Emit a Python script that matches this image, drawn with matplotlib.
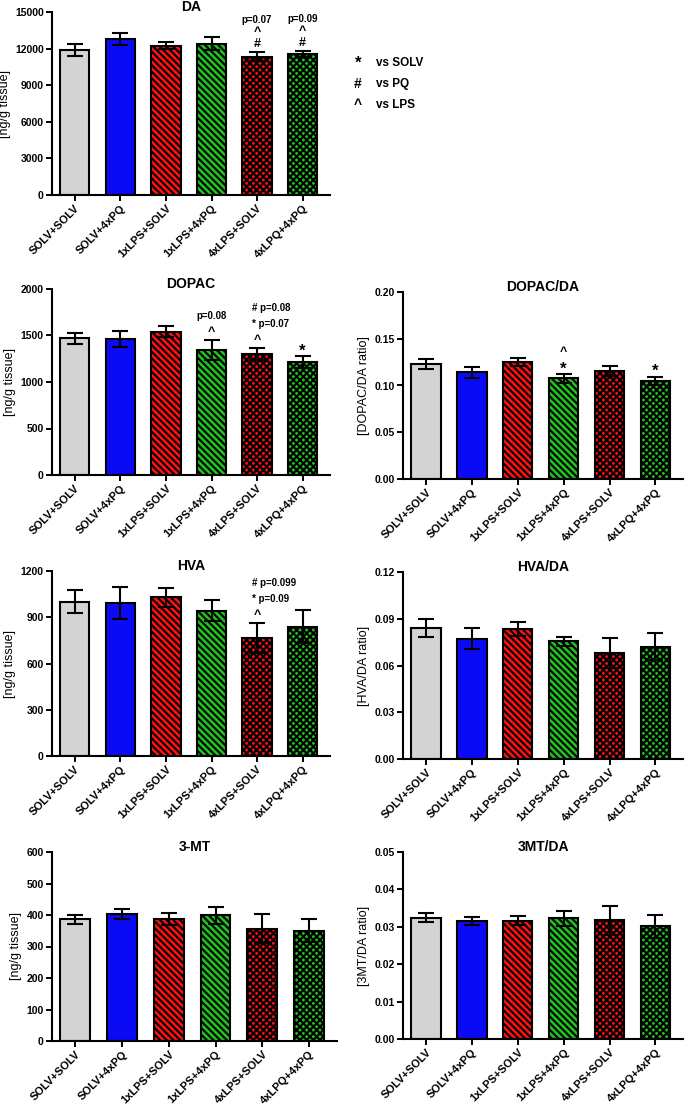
import matplotlib.pyplot as plt
from matplotlib.ticker import FormatStrFormatter

plt.rcParams['font.family'] = ['Liberation Sans', 'DejaVu Sans']
plt.rcParams['hatch.linewidth'] = 1.5

# groups and bar styling
groups = ['SOLV+SOLV', 'SOLV+4xPQ', '1xLPS+SOLV', '1xLPS+4xPQ', '4xLPS+SOLV', '4xLPQ+4xPQ']
colors = ['#d3d3d3', '#0a0af5', '#ff1010', '#1ec21e', '#ff1010', '#1ec21e']
hatches = ['', '', '\\\\\\\\\\', '\\\\\\\\\\', 'xxxxx', 'xxxxx']

# values (mean, sem)
da_mean = [11890, 12790, 12240, 12400, 11340, 11560]
da_err = [460, 490, 270, 550, 355, 220]
dopac_mean = [1470, 1463, 1539, 1341, 1301, 1214]
dopac_err = [62, 85, 58, 108, 61, 65]
dopac_da_mean = [0.1231, 0.1142, 0.1253, 0.1075, 0.1157, 0.1050]
dopac_da_err = [0.0053, 0.0057, 0.0046, 0.0046, 0.0053, 0.0046]
hva_mean = [1001, 995, 1029, 943, 765, 839]
hva_err = [76, 104, 63, 67, 98, 108]
hva_da_mean = [0.0841, 0.0773, 0.0833, 0.0756, 0.0681, 0.0720]
hva_da_err = [0.0060, 0.0068, 0.0045, 0.0030, 0.0094, 0.0087]
mt_mean = [386, 404, 387, 399, 357, 350]
mt_err = [13, 16, 19, 27, 45, 36]
mt_da_mean = [0.0324, 0.0316, 0.0316, 0.0323, 0.0317, 0.0301]
mt_da_err = [0.0012, 0.0010, 0.0012, 0.0020, 0.0039, 0.0031]

# significance marks per bar, listed from bottom to top
da_marks = {4: ['#', '^', 'p=0.07'], 5: ['#', '^', 'p=0.09']}
dopac_marks = {3: ['^', 'p=0.08'], 4: ['^', '* p=0.07', '# p=0.08'], 5: ['*']}
dopac_da_marks = {3: ['*', '^'], 5: ['*']}
hva_marks = {4: ['^', '* p=0.09', '# p=0.099']}

W, H = 685, 1108
fig = plt.figure(figsize=(W / 100, H / 100), dpi=100)


def panel(box, title, mean, err, ymax, ystep, ylabel, fmt, marks=None, step=15):
    left, top, right, bottom = box
    ax = fig.add_axes([left / W, 1 - bottom / H, (right - left) / W, (bottom - top) / H])
    x = range(len(groups))
    ax.bar(x, mean, 0.64, color=colors, hatch=hatches, edgecolor='black',
           linewidth=1.5, zorder=2)
    ax.errorbar(x, mean, yerr=err, fmt='none', ecolor='black', elinewidth=1.5,
                capsize=6, capthick=1.5, zorder=3)
    ax.set_xlim(-0.5, 5.6)
    ax.set_ylim(0, ymax)
    ax.set_yticks([i * ystep for i in range(int(round(ymax / ystep)) + 1)])
    ax.yaxis.set_major_formatter(FormatStrFormatter(fmt))
    ax.set_xticks(list(x))
    ax.set_xticklabels(groups, rotation=45, ha='right', rotation_mode='anchor',
                       fontsize=8, fontweight='bold')
    for lab in ax.get_yticklabels():
        lab.set_fontweight('bold')
        lab.set_fontsize(7.5)
    ax.tick_params(axis='both', length=4, width=1.4, pad=2)
    for s in ['top', 'right']:
        ax.spines[s].set_visible(False)
    for s in ['left', 'bottom']:
        ax.spines[s].set_linewidth(1.5)
    ax.set_ylabel(ylabel, fontsize=9, labelpad=3)
    # title sits right on the top of the axes
    ax.annotate(title, (0.5, 1.0), xycoords='axes fraction', xytext=(0, 0.5),
                textcoords='offset points', ha='center', va='baseline',
                fontsize=10, fontweight='bold', annotation_clip=False)
    if marks:
        for i, texts in marks.items():
            ytop = mean[i] + err[i]
            for k, t in enumerate(texts):
                off = (8 + k * step) * 0.72
                if t.startswith(('* ', '# ')):
                    ax.annotate(t, (i, ytop), xytext=(-4, off), textcoords='offset points',
                                ha='left', va='center', fontsize=7, fontweight='bold')
                elif t.startswith('p='):
                    ax.annotate(t, (i, ytop), xytext=(0, off), textcoords='offset points',
                                ha='center', va='center', fontsize=7, fontweight='bold')
                elif t == '*':
                    ax.annotate(t, (i, ytop), xytext=(0, off - 2), textcoords='offset points',
                                ha='center', va='center', fontsize=12, fontweight='bold')
                else:
                    ax.annotate(t, (i, ytop), xytext=(0, off), textcoords='offset points',
                                ha='center', va='center', fontsize=9, fontweight='bold')
    return ax


panel((52, 12, 330, 195), 'DA', da_mean, da_err, 15000, 3000, '[ng/g tissue]', '%d',
      da_marks, step=12)
panel((52, 289, 330, 475), 'DOPAC', dopac_mean, dopac_err, 2000, 500, '[ng/g tissue]', '%d',
      dopac_marks, step=16)
panel((403, 292, 683, 479), 'DOPAC/DA', dopac_da_mean, dopac_da_err, 0.20, 0.05,
      '[DOPAC/DA ratio]', '%.2f', dopac_da_marks, step=14)
panel((52, 571, 330, 756), 'HVA', hva_mean, hva_err, 1200, 300, '[ng/g tissue]', '%d',
      hva_marks, step=16)
panel((403, 572, 683, 759), 'HVA/DA', hva_da_mean, hva_da_err, 0.12, 0.03,
      '[HVA/DA ratio]', '%.2f')
panel((52, 852, 337, 1041), '3-MT', mt_mean, mt_err, 600, 100, '[ng/g tissue]', '%d')
panel((403, 852, 683, 1039), '3MT/DA', mt_da_mean, mt_da_err, 0.05, 0.01,
      '[3MT/DA ratio]', '%.2f')

# legend for significance symbols
legend_syms = ['*', '#', '^']
legend_txt = ['vs SOLV', 'vs PQ', 'vs LPS']
for k, (s, t) in enumerate(zip(legend_syms, legend_txt)):
    yy = 1 - (63 + k * 21) / H
    fs = 12 if s == '*' else 10
    fig.text(358 / W, yy, s, fontsize=fs, fontweight='bold', ha='center', va='center')
    fig.text(376 / W, yy, t, fontsize=8.5, fontweight='bold', ha='left', va='center')

fig.savefig('out.png', dpi=100)
